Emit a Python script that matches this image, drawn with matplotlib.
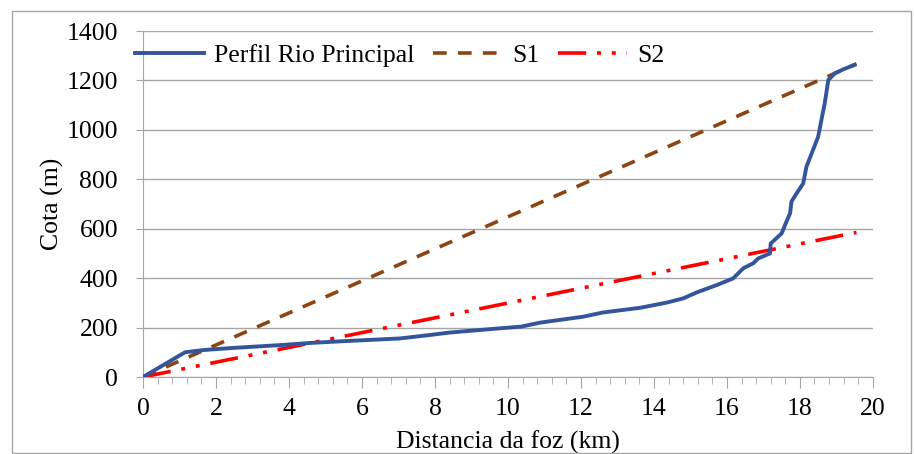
import matplotlib
matplotlib.use('Agg')
import matplotlib.pyplot as plt
from matplotlib.patches import Rectangle
from matplotlib.ticker import MultipleLocator

plt.rcParams['font.family'] = ['Liberation Serif', 'DejaVu Serif']

# perfil do rio principal (km, m)
rio_x = [0, 1.15, 1.65, 2.5, 3.75, 4.6, 5.5, 7.04, 7.86, 8.41, 9.78, 10.37, 10.88,
         12.06, 12.6, 13.62, 14.35, 14.8, 15.17, 15.72, 16.17, 16.45, 16.72, 16.86,
         17.18, 17.2, 17.5, 17.63, 17.73, 17.77, 17.91, 18.09, 18.18, 18.36, 18.5,
         18.59, 18.68, 18.78, 18.96, 19.19, 19.5]
rio_y = [0, 100, 109, 118, 129, 138, 145, 156, 170, 180, 197, 204, 220,
         244, 261, 280, 301, 318, 342, 372, 399, 440, 460, 480,
         500, 540, 581, 628, 662, 710, 743, 783, 851, 919, 972,
         1040, 1107, 1202, 1229, 1245, 1263]

# declividades
s1_x = [0, 19.55]
s1_y = [0, 1267]
s2_x = [0, 19.55]
s2_y = [0, 585]

fs = 18.5

fig = plt.figure(figsize=(9.14, 4.54), dpi=100)
ax = fig.add_axes([0.1565, 0.1696, 0.7985, 0.7621])

ax.plot(rio_x, rio_y, color='#34559C', lw=2.8, label='Perfil Rio Principal', zorder=3)
ax.plot(s1_x, s1_y, color='#8B4513', lw=2.6, linestyle=(0, (3.8, 3.1)), label='S1', zorder=2)
ax.plot(s2_x, s2_y, color='#FF0000', lw=2.6,
        linestyle=(0, (7.8, 3, 1.1, 3, 1.1, 3)), label='S2', zorder=2)

ax.set_xlim(0, 20)
ax.set_ylim(0, 1400)
ax.xaxis.set_major_locator(MultipleLocator(2))
ax.xaxis.set_minor_locator(MultipleLocator(0.4))
ax.yaxis.set_major_locator(MultipleLocator(200))

ax.grid(axis='y', color='#A6A6A6', lw=1)
ax.set_axisbelow(True)
for s in ['top', 'right']:
    ax.spines[s].set_visible(False)
for s in ['left', 'bottom']:
    ax.spines[s].set_color('#A6A6A6')
ax.tick_params(axis='x', which='major', length=8, color='#A6A6A6', labelsize=fs, pad=7)
ax.tick_params(axis='x', which='minor', length=5, color='#A6A6A6')
ax.tick_params(axis='y', length=5, color='#A6A6A6', labelsize=fs, pad=13)

ax.set_xlabel('Distancia da foz (km)', fontsize=fs, labelpad=8)
ax.set_ylabel('Cota (m)', fontsize=fs, labelpad=2)

ax.legend(loc='upper left', bbox_to_anchor=(-0.029, 1.0), ncol=3, frameon=False,
          fontsize=fs, handlelength=2.7, handletextpad=0.4, columnspacing=0.7,
          borderaxespad=0.1)

fig.patches.append(Rectangle((12 / 914, 0.002), 0.997 - 12 / 914, 1 - 11 / 454 - 0.002,
                             transform=fig.transFigure, fill=False,
                             edgecolor='#A6A6A6', lw=1))

fig.savefig('out.png', dpi=100)
